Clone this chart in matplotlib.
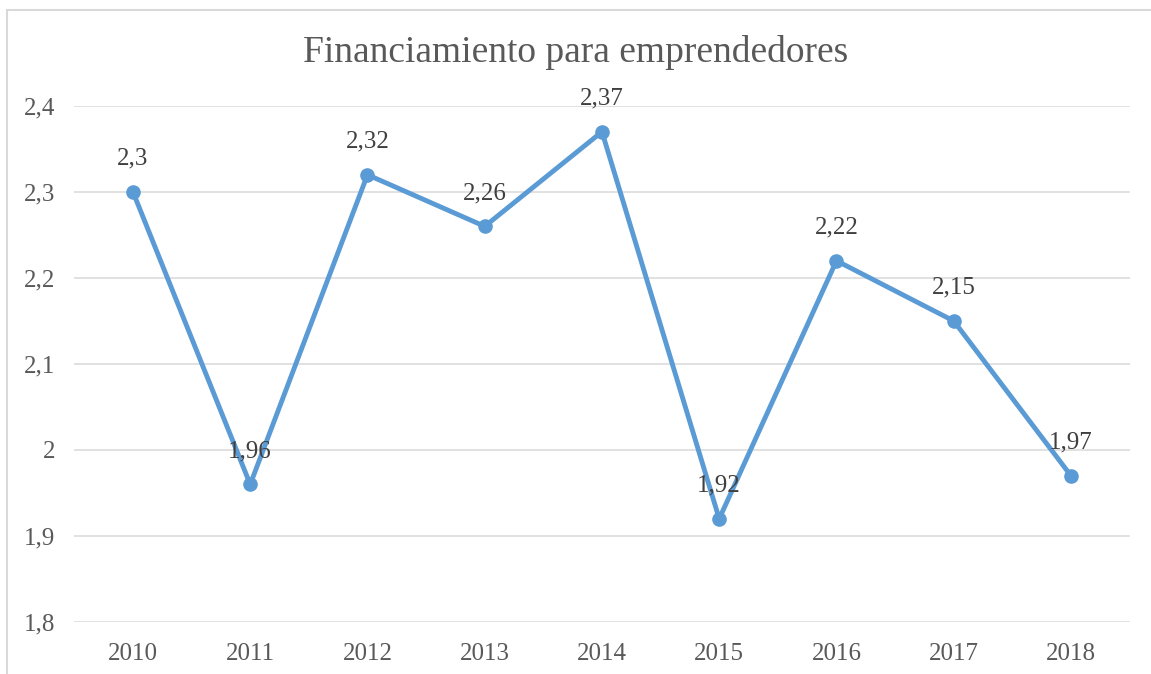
import matplotlib.pyplot as plt
from matplotlib.patches import Rectangle

# Data
years = ["2010", "2011", "2012", "2013", "2014", "2015", "2016", "2017", "2018"]
values = [2.3, 1.96, 2.32, 2.26, 2.37, 1.92, 2.22, 2.15, 1.97]
y_ticks = [1.8, 1.9, 2.0, 2.1, 2.2, 2.3, 2.4]
y_tick_labels = ["1,8", "1,9", "2", "2,1", "2,2", "2,3", "2,4"]

plt.rcParams["font.family"] = ["Liberation Serif", "DejaVu Serif"]

fig = plt.figure(figsize=(11.51, 6.74), dpi=100)
ax = fig.add_axes([0.0646, 0.0772, 0.9168, 0.7656])

# light frame around chart area
fig.patches.append(Rectangle((7 / 1151, -0.1), 1.2, 1 - 10 / 674 + 0.1,
                             transform=fig.transFigure, fill=False,
                             edgecolor="#D9D9D9", linewidth=1.5))

x = list(range(len(years)))
ax.plot(x, values, color="#5B9BD5", linewidth=3.5, marker="o",
        markersize=9.5, zorder=3)

for xi, v in zip(x, values):
    label = f"{v:g}".replace(".", ",")
    ax.annotate(label, (xi, v), xytext=(0, 24), textcoords="offset points",
                ha="center", va="center", fontsize=18, color="#404040",
                zorder=4)

ax.set_xlim(-0.5, len(years) - 0.5)
ax.set_ylim(1.8, 2.4)
ax.set_xticks(x)
ax.set_xticklabels(years)
ax.set_yticks(y_ticks)
ax.set_yticklabels(y_tick_labels)
ax.tick_params(length=0, labelsize=18, labelcolor="#595959")
ax.tick_params(axis="x", pad=15)
ax.tick_params(axis="y", pad=14)
ax.grid(axis="y", color="#D9D9D9", linewidth=1.1)
ax.set_axisbelow(True)
for s in ax.spines.values():
    s.set_visible(False)

fig.text(0.5, 1 - 53 / 674, "Financiamiento para emprendedores",
         ha="center", va="center", fontsize=27, color="#595959")

fig.savefig("out.png", dpi=100)
